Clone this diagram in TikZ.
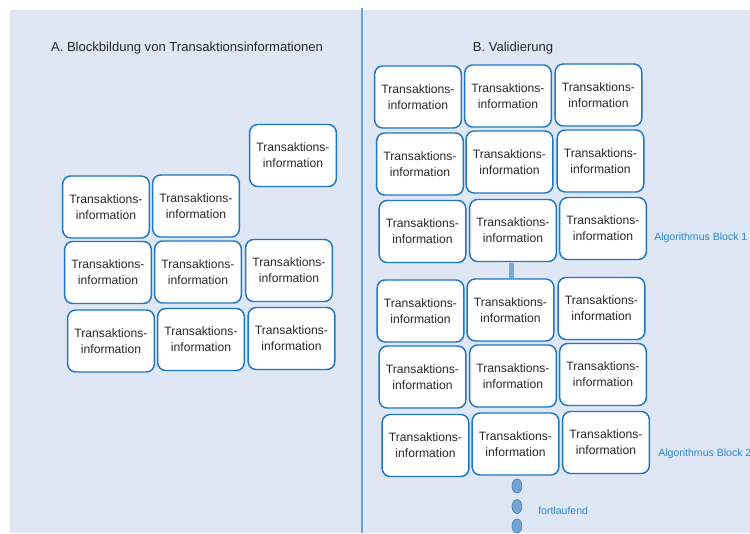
\documentclass[tikz,border=0pt]{standalone}
\usepackage{fontspec}
\setmainfont{Liberation Sans}
\usetikzlibrary{shapes.geometric}
\definecolor{bgblue}{RGB}{223,231,245}
\definecolor{boxline}{RGB}{30,118,196}
\definecolor{divline}{RGB}{110,163,214}
\definecolor{conline}{RGB}{122,168,216}
\definecolor{dotfill}{RGB}{118,164,210}
\definecolor{dotline}{RGB}{60,120,185}
\definecolor{txtgray}{RGB}{40,40,40}
\definecolor{lblblue}{RGB}{40,136,204}
\begin{document}
\begin{tikzpicture}[x=0.75pt,y=-0.75pt,
  tbox/.style={draw=boxline, line width=1.1pt, fill=white, rounded corners=6pt,
    minimum width=65pt, minimum height=46.5pt, inner sep=0pt, align=center,
    text=txtgray, font=\fontsize{9.1}{12}\selectfont},
  ttitle/.style={text=txtgray, font=\fontsize{9.8}{12}\selectfont, inner sep=0pt},
  lbl/.style={text=lblblue, font=\fontsize{7.9}{10}\selectfont, inner sep=0pt, anchor=west},
  dotnode/.style={ellipse, draw=dotline, line width=0.4pt, fill=dotfill, minimum width=7.5pt, minimum height=10.5pt, inner sep=0pt}]
\useasboundingbox (0,0) rectangle (750,533);
\fill[white] (0,0) rectangle (750,533);
\fill[bgblue] (10,10) rectangle (750,533);
\coordinate (dtop) at (362,8);
\coordinate (dbot) at (362,533);
\draw[divline, line width=1.6pt] (dtop) -- (dbot);
% titles
\node[ttitle] (tA) at (187,48) {A. Blockbildung von Transaktionsinformationen};
\node[ttitle] (tB) at (513,48) {B. Validierung};
% left panel
\def\TI{Transaktions-\\information}
\node[tbox] (a0) at (293,155.5) {\TI};
\node[tbox] (a11) at (106,207) {\TI};
\node[tbox] (a12) at (196,206) {\TI};
\node[tbox] (a21) at (108,272.5) {\TI};
\node[tbox] (a22) at (198,272) {\TI};
\node[tbox] (a23) at (289,270.5) {\TI};
\node[tbox] (a31) at (111,341) {\TI};
\node[tbox] (a32) at (201,339.5) {\TI};
\node[tbox] (a33) at (291.5,338.5) {\TI};
% right panel block 1
\node[tbox] (b11) at (418,97) {\TI};
\node[tbox] (b12) at (508,96) {\TI};
\node[tbox] (b13) at (598.5,95) {\TI};
\node[tbox] (b21) at (420,164) {\TI};
\node[tbox] (b22) at (509.5,162) {\TI};
\node[tbox] (b23) at (600.5,161) {\TI};
\node[tbox] (b31) at (422.5,231.5) {\TI};
\node[tbox] (b32) at (513,230.5) {\TI};
\node[tbox] (b33) at (603,228.5) {\TI};
% block 2
\node[tbox] (c11) at (420.5,311) {\TI};
\node[tbox] (c12) at (510.5,310) {\TI};
\node[tbox] (c13) at (601.5,308.5) {\TI};
\node[tbox] (c21) at (422.5,377) {\TI};
\node[tbox] (c22) at (513,376) {\TI};
\node[tbox] (c23) at (603,374.5) {\TI};
\node[tbox] (c31) at (425.5,445.5) {\TI};
\node[tbox] (c32) at (515.5,444) {\TI};
\node[tbox] (c33) at (606,442.5) {\TI};
% connector between blocks
\begin{scope}[on background layer/.style={}]
\end{scope}
\draw[conline, line width=3.6pt] (b32.south -| 511.5,0) ++(0,1) coordinate (cs) (cs) -- (c12.north -| cs);
% labels
\node[lbl] (l1) at (654,238) {Algorithmus Block 1};
\node[lbl] (l2) at (658,454) {Algorithmus Block 2};
% dots
\node[dotnode] (d1) at (517,486) {};
\node[dotnode] (d2) at (517,506.5) {};
\node[dotnode] (d3) at (517,526) {};
\node[lbl] (l3) at (538,511) {fortlaufend};
\end{tikzpicture}
\end{document}
